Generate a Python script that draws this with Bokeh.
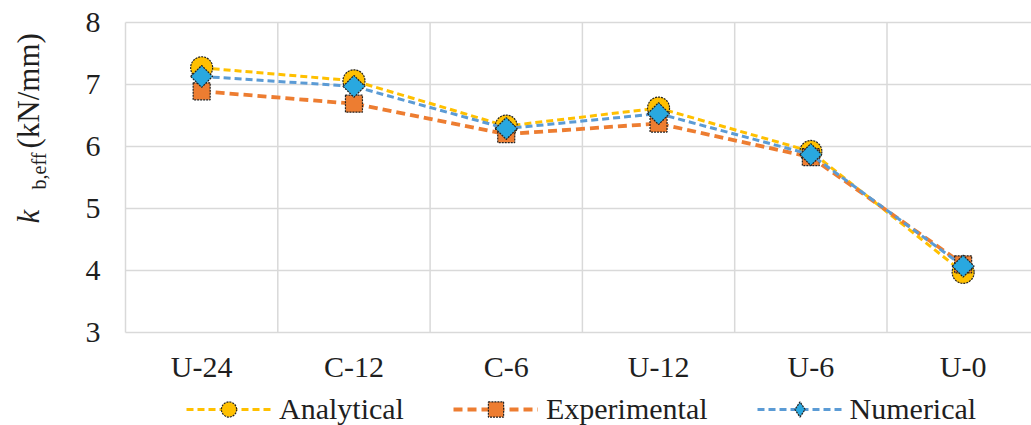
import numpy as np
from bokeh.plotting import figure
from bokeh.models import Legend, LegendItem, Label
from bokeh.core.properties import value
from bokeh.embed import file_html
from bokeh.resources import INLINE

categories = ["U-24", "C-12", "C-6", "U-12", "U-6", "U-0"]
analytical = [7.27, 7.06, 6.33, 6.62, 5.92, 3.97]
experimental = [6.89, 6.69, 6.20, 6.37, 5.83, 4.10]
numerical = [7.13, 6.97, 6.29, 6.53, 5.87, 4.07]
y_ticks = [3, 4, 5, 6, 7, 8]

W, H = 1031, 425
FONT = "Liberation Serif"
TXT = "#1f1f1f"
GRID = "#d9d9d9"

# layout of the plotting area, in pixels of the page
LEFT, TOP, BOTTOM = 125.0, 22.0, 332.0
CAT_W = 152.3
n = len(categories)
y_lo, y_hi = y_ticks[0], y_ticks[-1]
PX_PER_Y = (BOTTOM - TOP) / (y_hi - y_lo)

def px2x(px):
    return -0.5 + (px - LEFT) / CAT_W

def px2y(py):
    return y_hi - (py - TOP) / PX_PER_Y

xs = list(range(n))

p = figure(width=W, height=H, output_backend="svg", toolbar_location=None,
           x_range=(px2x(0), px2x(W)), y_range=(px2y(H), px2y(0)),
           x_axis_type=None, y_axis_type=None,
           min_border=0, min_border_left=0, min_border_right=0,
           min_border_top=0, min_border_bottom=0)
p.outline_line_color = None

# grid lines (category boundaries and value ticks)
bounds = [i - 0.5 for i in range(n + 1)]
p.segment(x0=bounds, y0=[y_lo] * len(bounds), x1=bounds, y1=[y_hi] * len(bounds),
          line_color=GRID, line_width=1.5)
p.segment(x0=[-0.5] * len(y_ticks), y0=y_ticks, x1=[n - 0.5] * len(y_ticks), y1=y_ticks,
          line_color=GRID, line_width=1.5)

# tick labels
p.text(x=[px2x(100)] * len(y_ticks), y=y_ticks,
       text=[str(t) for t in y_ticks], text_font=value(FONT), text_font_size="30px",
       text_color=TXT, text_align="right", text_baseline="middle")
p.text(x=xs, y=[px2y(366)] * n, text=categories, text_font=value(FONT),
       text_font_size="30px", text_color=TXT, text_align="center",
       text_baseline="middle")

# y-axis title: k_{b,eff} (kN/mm), rotated
def vlabel(px, py, txt, size, style="normal"):
    p.add_layout(Label(x=px2x(px), y=px2y(py), x_units="data", y_units="data",
                       text=txt, angle=np.pi / 2, angle_units="rad",
                       text_font=FONT, text_font_style=style,
                       text_font_size=size, text_color=TXT,
                       text_align="left", text_baseline="middle"))

vlabel(27.5, 223, "k", "31px", "italic")
vlabel(38, 189, "b,eff", "20px")
vlabel(27.5, 148, "(kN/mm)", "31px")

series = [
    ("Analytical", analytical, "#FFC000", "#FFC000", 3, "7 4", "circle", 22, 0.0, "circle"),
    ("Experimental", experimental, "#ED7D31", "#ED7D31", 3.8, "9 5", "square", 17, 0.0, "square"),
    ("Numerical", numerical, "#5B9BD5", "#29A8E0", 3, "7 4", "square", 15.5, np.pi / 4, "diamond"),
]
items = []
for name, vals, lc, fc, lw, dash, mk, sz, ang, lmk in series:
    lr = p.line(xs, vals, line_color=lc, line_width=lw, line_dash=dash)
    sr = p.scatter(xs, vals, marker=mk, size=sz, angle=ang, fill_color=fc,
                   line_color="#222222", line_width=1.2, line_dash="2 1")
    if lmk == mk:
        items.append(LegendItem(label=name, renderers=[lr, sr]))
    else:
        # key-only marker: same points, hidden in the plot, upright diamond in the key
        kr = p.scatter(xs, vals, marker=lmk, size=sz, fill_color=fc,
                       line_color="#222222", line_width=1.2, line_dash="2 1",
                       visible=False)
        items.append(LegendItem(label=name, renderers=[lr, kr]))

legend = Legend(items=items, orientation="horizontal", location=(186, -3),
                glyph_width=85, glyph_height=38, label_standoff=8, spacing=49,
                padding=0, margin=0, border_line_color=None,
                background_fill_alpha=0,
                label_text_font=FONT, label_text_font_size="30px",
                label_text_color=TXT)
p.add_layout(legend, "center")

open("out.html", "w").write(file_html(p, INLINE))
